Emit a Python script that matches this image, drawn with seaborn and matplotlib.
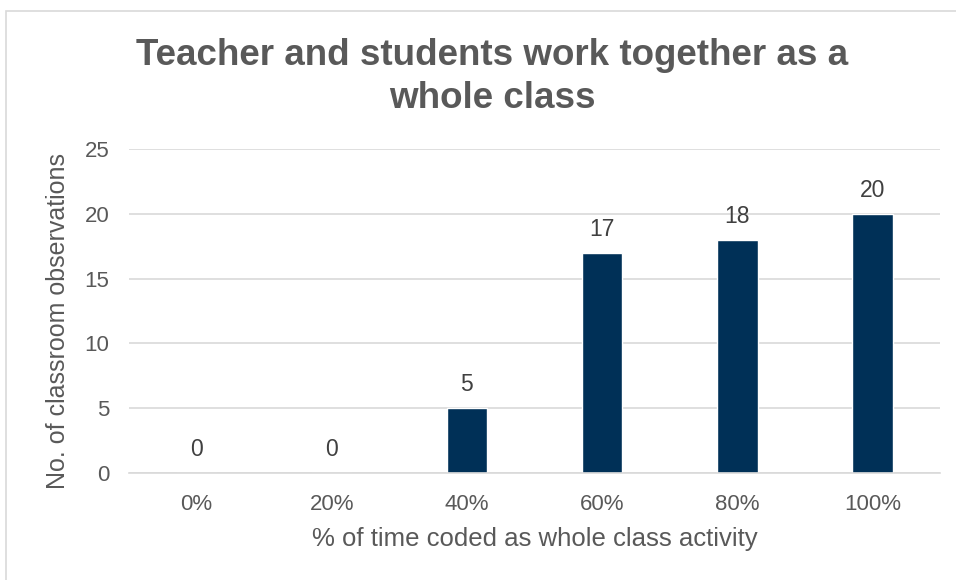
import matplotlib
matplotlib.use("Agg")
import matplotlib.pyplot as plt
from matplotlib.patches import Rectangle
import seaborn as sns
import pandas as pd

categories = ["0%", "20%", "40%", "60%", "80%", "100%"]
observations = [0, 0, 5, 17, 18, 20]
y_ticks = [0, 5, 10, 15, 20, 25]

sns.set_theme(style="white")
plt.rcParams["font.family"] = ["Liberation Sans", "DejaVu Sans"]

text_color = "#595959"
bar_color = "#003057"

df = pd.DataFrame({"pct": categories, "count": observations})

fig = plt.figure(figsize=(9.56, 5.8), dpi=100)
ax = fig.add_axes([129 / 956, 1 - 473 / 580, (940 - 129) / 956, (473 - 149) / 580])

sns.barplot(data=df, x="pct", y="count", order=categories, color=bar_color,
            width=0.3, saturation=1, ax=ax)

for i, v in enumerate(observations):
    ax.annotate(str(v), (i, v), xytext=(0, 8.5), textcoords="offset points",
                ha="center", va="bottom", fontsize=16.5, color="#404040")

ax.set_ylim(0, 25)
ax.set_xlim(-0.5, len(categories) - 0.5)
ax.set_yticks(y_ticks)
ax.yaxis.grid(True, color="#d9d9d9", linewidth=1.2)
ax.set_axisbelow(True)
for s in ["top", "right", "left"]:
    ax.spines[s].set_visible(False)
ax.spines["bottom"].set_color("#d9d9d9")
ax.spines["bottom"].set_linewidth(1.2)
ax.tick_params(axis="both", length=0, labelsize=16, labelcolor=text_color)
ax.tick_params(axis="x", pad=15)
ax.tick_params(axis="y", pad=14)

ax.set_xlabel("% of time coded as whole class activity", fontsize=18.5,
              color=text_color, labelpad=9)
ax.set_ylabel("No. of classroom observations", fontsize=18,
              color=text_color)
ax.yaxis.set_label_coords(-0.073, 0.469)

fig.text(492 / 956, 1 - 77 / 580,
         "Teacher and students work together as a\nwhole class",
         ha="center", va="center", fontsize=26.5, fontweight="bold",
         color=text_color, linespacing=1.28)

# chart frame
fig.patches.append(Rectangle((5.5 / 956, -0.1), 1.2, 1 - 10.5 / 580 + 0.1,
                             transform=fig.transFigure, fill=False,
                             edgecolor="#d9d9d9", linewidth=1.2))

fig.savefig("out.png", dpi=100)
